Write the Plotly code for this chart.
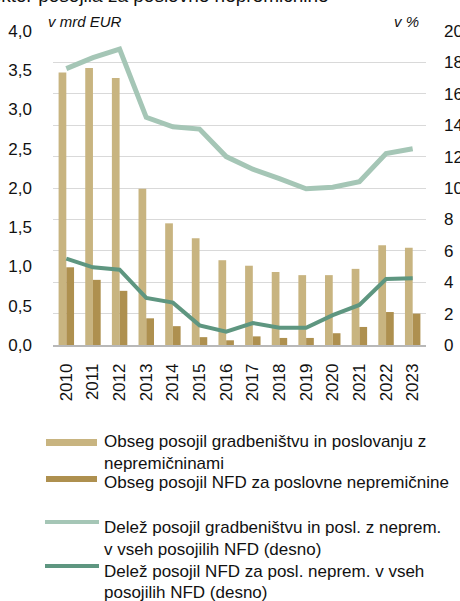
import plotly.graph_objects as go

years = [str(y) for y in range(2010, 2024)]
loans_construction = [3.47, 3.53, 3.40, 1.99, 1.55, 1.36, 1.08, 1.01, 0.93, 0.89, 0.89, 0.97, 1.27, 1.24]
loans_cre = [0.99, 0.83, 0.69, 0.34, 0.24, 0.10, 0.06, 0.11, 0.09, 0.09, 0.15, 0.23, 0.42, 0.40]
share_construction = [17.6, 18.3, 18.85, 14.5, 13.9, 13.75, 12.0, 11.2, 10.6, 9.95, 10.05, 10.4, 12.2, 12.5]
share_cre = [5.5, 4.95, 4.8, 3.0, 2.7, 1.25, 0.85, 1.4, 1.1, 1.1, 1.9, 2.55, 4.2, 4.25]

left_ticks = [0, 0.5, 1.0, 1.5, 2.0, 2.5, 3.0, 3.5, 4.0]
right_ticks = list(range(0, 21, 2))

names = [
    "Obseg posojil gradbeništvu in poslovanju z<br>nepremičninami",
    "Obseg posojil NFD za poslovne nepremičnine",
    "Delež posojil gradbeništvu in posl. z neprem.<br>v vseh posojilih NFD (desno)",
    "Delež posojil NFD za posl. neprem. v vseh<br>posojilih NFD (desno)",
]
title_text = "Sektor posojila za poslovne nepremičnine"
colors = ["#c8b480", "#ae904f", "#a5c6b6", "#5e9680"]

FONT = "Liberation Sans, Arial, sans-serif"
W, H = 460, 601
ML, MR, MT, MB = 53, 34, 31, 256
PW, PH = W - ML - MR, H - MT - MB

fig = go.Figure()
fig.add_trace(go.Bar(x=years, y=loans_construction, name=names[0], marker_color=colors[0],
                     marker_line_width=0, yaxis="y", showlegend=False))
fig.add_trace(go.Bar(x=years, y=loans_cre, name=names[1], marker_color=colors[1],
                     marker_line_width=0, yaxis="y", showlegend=False))
fig.add_trace(go.Scatter(x=years, y=share_construction, name=names[2], mode="lines",
                         line=dict(color=colors[2], width=5), yaxis="y2", showlegend=False))
fig.add_trace(go.Scatter(x=years, y=share_cre, name=names[3], mode="lines",
                         line=dict(color=colors[3], width=4), yaxis="y2", showlegend=False))

fig.update_layout(
    width=W, height=H,
    margin=dict(l=ML, r=MR, t=MT, b=MB, pad=0, autoexpand=False),
    paper_bgcolor="white", plot_bgcolor="white",
    separators=",.",
    font=dict(family=FONT, size=17, color="#111111"),
    barmode="group", bargap=0.42, bargroupgap=0,
    xaxis=dict(tickangle=-90, showgrid=False, showline=True, linecolor="#b8b8b8", linewidth=1.5,
               ticks="", tickfont=dict(size=17), ticklabelstandoff=10, automargin=False),
    yaxis=dict(range=[0, 4], tickvals=left_ticks, tickformat=".1f", showgrid=False,
               zeroline=False, ticks="", ticklabelstandoff=20, tickfont=dict(size=17),
               automargin=False),
    yaxis2=dict(range=[0, 20], tickvals=right_ticks, overlaying="y", side="right",
                showgrid=True, gridcolor="#d9d9d9", gridwidth=1, zeroline=False,
                ticks="", ticklabelstandoff=17, tickfont=dict(size=17), automargin=False),
)


def px(xpix):
    return (xpix - ML) / PW


def py(ypix):
    return (H - MB - ypix) / PH


annotations = [
    dict(text=title_text, xref="paper", yref="paper", x=px(331), y=py(-4),
         xanchor="right", yanchor="middle", showarrow=False, font=dict(size=19)),
    dict(text="<i>v mrd EUR</i>", xref="paper", yref="paper", x=px(46), y=py(22),
         xanchor="left", yanchor="middle", showarrow=False, font=dict(size=15)),
    dict(text="<i>v %</i>", xref="paper", yref="paper", x=px(421), y=py(22),
         xanchor="right", yanchor="middle", showarrow=False, font=dict(size=15)),
]

# manual legend
shapes = []
swatches = [("bar", 439, 446), ("bar", 476, 482), ("line", 522, None), ("line", 566, None)]
line_centers = [[441.5, 463.5], [482.5], [527.5, 549.5], [571, 592.5]]
for i, (kind, a, b) in enumerate(swatches):
    if kind == "bar":
        shapes.append(dict(type="rect", xref="paper", yref="paper", x0=px(46), x1=px(97),
                           y0=py(b), y1=py(a), fillcolor=colors[i], line_width=0))
    else:
        shapes.append(dict(type="line", xref="paper", yref="paper", x0=px(45), x1=px(99),
                           y0=py(a), y1=py(a), line=dict(color=colors[i], width=4)))
    for part, yc in zip(names[i].split("<br>"), line_centers[i]):
        annotations.append(dict(text=part, xref="paper", yref="paper", x=px(102), y=py(yc),
                                xanchor="left", yanchor="middle", showarrow=False,
                                font=dict(size=17)))

fig.update_layout(annotations=annotations, shapes=shapes)
fig.write_html("out.html", config={"displayModeBar": False},
               post_script="document.body.style.margin='0px';document.body.style.overflow='hidden';")
